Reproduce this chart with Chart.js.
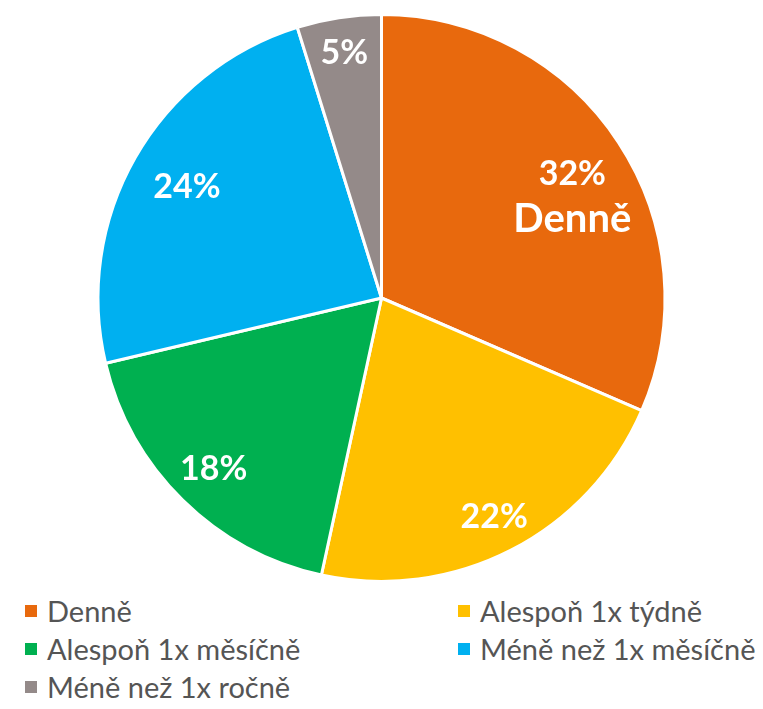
<!DOCTYPE html>
<html>
<head>
<meta charset="utf-8">
<script src="https://cdn.jsdelivr.net/npm/chart.js@4/dist/chart.umd.min.js"></script>
<style>
  body { margin: 0; background: #fff; width: 763px; height: 709px; overflow: hidden; font-family: Lato, "Open Sans", sans-serif; }
  #wrap { position: relative; width: 763px; height: 590px; }
  #legend { position: absolute; left: 0; top: 592px; width: 763px; }
  .item { position: absolute; font-size: 29px; color: #555555; white-space: nowrap; line-height: 38px; }
  .item span.box { display: inline-block; width: 12px; height: 12px; margin-right: 10px; vertical-align: 5px; }
</style>
</head>
<body>
<div id="wrap"><canvas id="myChart" width="763" height="590"></canvas></div>
<div id="legend"></div>
<script>
// data
var categories = ['Denně', 'Alespoň 1x týdně', 'Alespoň 1x měsíčně', 'Méně než 1x měsíčně', 'Méně než 1x ročně'];
var shares = [31.5, 21.9, 17.9, 23.9, 4.8];
var pct_labels = ['32%', '22%', '18%', '24%', '5%'];
var colors = ['#E8690D', '#FFC000', '#00B050', '#00B0F0', '#948A89'];

// where the % labels sit, as a fraction of the radius
var label_radius = [0.78, 0.87, 0.845, 0.79, 0.875];

var pieLabels = {
    id: 'pieLabels',
    afterDatasetsDraw: function(chart) {
        var ctx = chart.ctx;
        var meta = chart.getDatasetMeta(0);
        ctx.save();
        ctx.fillStyle = '#ffffff';
        ctx.textAlign = 'center';
        ctx.textBaseline = 'middle';
        for (var i = 0; i < meta.data.length; i++) {
            var arc = meta.data[i];
            var mid = (arc.startAngle + arc.endAngle) / 2;
            var r = arc.outerRadius * label_radius[i];
            var x = arc.x + Math.cos(mid) * r;
            var y = arc.y + Math.sin(mid) * r;
            ctx.font = 'bold 34px Lato';
            if (i == 0) {
                // first slice also carries its name
                ctx.fillText(pct_labels[i], x + 6, y - 3);
                ctx.font = 'bold 40px Lato';
                ctx.fillText(categories[i], x + 6, y + 42);
            } else {
                ctx.fillText(pct_labels[i], x, y);
            }
        }
        ctx.restore();
    }
};

var ctx = document.getElementById('myChart').getContext('2d');
var chart = new Chart(ctx, {
    type: 'pie',
    data: {
        labels: categories,
        datasets: [{
            data: shares,
            backgroundColor: colors,
            borderColor: '#ffffff',
            borderWidth: 3
        }]
    },
    options: {
        responsive: false,
        animation: false,
        layout: { padding: { top: 13, bottom: 7 } },
        plugins: {
            legend: { display: false },
            tooltip: { enabled: false }
        }
    },
    plugins: [pieLabels]
});

// legend in two columns, like the original
var legend = document.getElementById('legend');
for (var i = 0; i < categories.length; i++) {
    var div = document.createElement('div');
    div.className = 'item';
    div.style.left = (i % 2 == 0 ? 25 : 458) + 'px';
    div.style.top = (Math.floor(i / 2) * 38) + 'px';
    div.innerHTML = '<span class="box" style="background:' + colors[i] + '"></span>' + categories[i];
    legend.appendChild(div);
}
</script>
</body>
</html>
